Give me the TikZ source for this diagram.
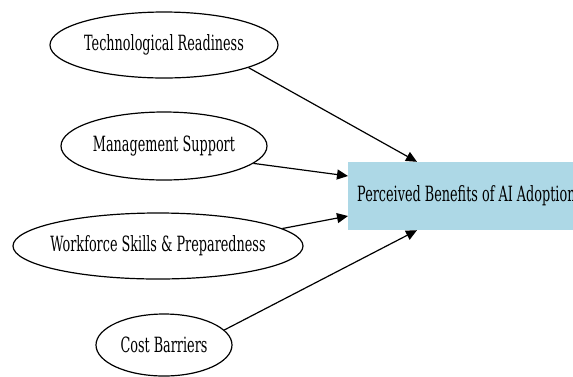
\documentclass[tikz,border=0pt]{standalone}
\usepackage{fontspec}
\setmainfont{DejaVu Serif}[FakeStretch=0.61]
\usetikzlibrary{shapes.geometric,arrows.meta}

\definecolor{boxblue}{RGB}{173,216,230}

\begin{document}
\begin{tikzpicture}
[x=1pt,y=-1pt,
  factordecorate/.style={shape=ellipse,draw,line width=1.2pt,inner xsep=-6pt,inner ysep=0pt,font=\fontsize{21}{24}\selectfont},%
  outcomedecorate/.style={shape=rectangle,fill=boxblue,inner xsep=9pt,inner ysep=0pt,anchor=west,font=\fontsize{21}{24}\selectfont},%
  arrowdecorate/.style={-{Triangle[length=11pt,width=10pt]},line width=1.2pt}]
\path[use as bounding box,clip] (0,0) rectangle (573,376);
%% nodes or vertices
\foreach \nodename/\x/\y/\w/\h/\txt in {tech/164/45/228/66/Technological Readiness,
  mgmt/164/146/206/68/Management Support,
  work/158/246/290/66/Workforce Skills \& Preparedness,
  cost/164/345/136/62/Cost Barriers}
{
  \node (\nodename) at (\x,\y) [factordecorate,minimum width=\w,minimum height=\h] {\txt};
}
\node (benefit) at (348,196) [outcomedecorate,minimum height=68] {Perceived Benefits of AI Adoption};
%% edges or lines
\coordinate (benefittop) at ([xshift=69]benefit.north west);
\coordinate (benefitbot) at ([xshift=69]benefit.south west);
\coordinate (benefitupper) at ([yshift=20]benefit.west);
\coordinate (benefitlower) at ([yshift=-20]benefit.west);
\path
\foreach \startnode/\angle/\endnode in {tech/-15/benefittop, mgmt/-11/benefitupper,
  work/8/benefitlower, cost/14/benefitbot}
{
  (\startnode.\angle) edge[arrowdecorate] (\endnode)
};
\end{tikzpicture}
\end{document}
